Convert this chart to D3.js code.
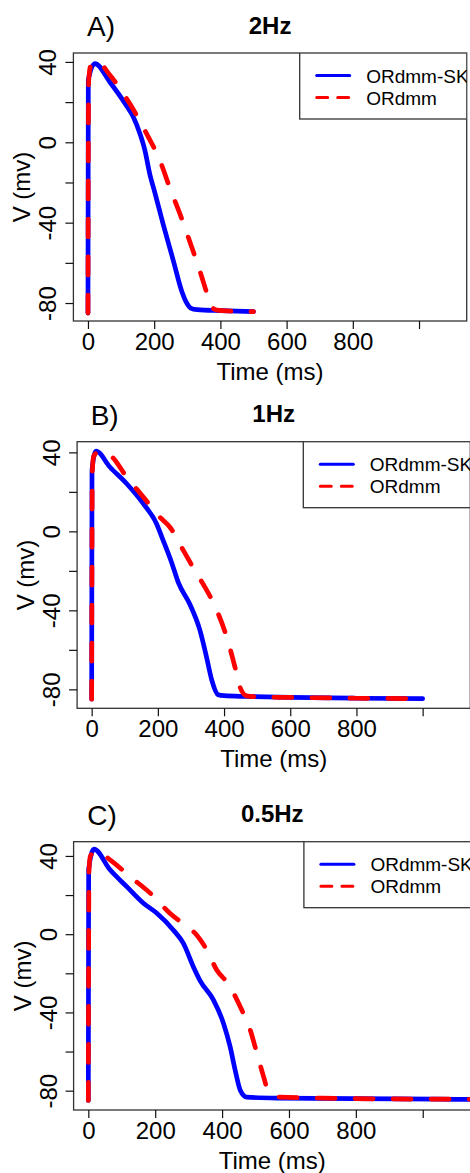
<!DOCTYPE html>
<html>
<head>
<meta charset="utf-8">
<script src="https://cdn.jsdelivr.net/npm/d3@7"></script>
<style>
  body { margin: 0; background: #fff; }
  svg { display: block; font-family: "Liberation Sans", Arial, sans-serif; }
</style>
</head>
<body>
<svg width="470" height="1173"></svg>
<script>
const panelLetters = ['A)', 'B)', 'C)'];
const panelTitles = ['2Hz', '1Hz', '0.5Hz'];
const seriesNames = ['ORdmm-SK', 'ORdmm'];
const xTicks = [0, 200, 400, 600, 800, 1000];
const xTickLabels = ['0', '200', '400', '600', '800', ''];
const yTicks = [-80, -60, -40, -20, 0, 20, 40];
const yTickLabels = ['-80', '', '-40', '', '0', '', '40'];
const xLimit = [0, 1100];
const yLimits = [[-84.0, 39.5], [-84.6, 40.4], [-84.8, 42.2]];

// A) 2Hz
const timeSkA = [0, 1, 21, 66, 112, 137, 157, 172, 187, 202, 227, 258, 283, 300, 310, 330, 400, 500];
const voltSkA = [-85, 31, 39.2, 30, 19.3, 12.6, 4.3, -4, -16, -25, -40.7, -59, -74, -80.5, -82.5, -83.3, -83.8, -84.3];
const timeOrdA = [0, 2, 8, 26, 66, 127, 177, 217, 248, 278, 313, 338, 363, 374, 390, 430, 500];
const voltOrdA = [-85, 30, 38, 40.5, 33.5, 19, 4.3, -9, -23, -35.7, -52, -64, -77, -82, -83.5, -84, -84.3];

// B) 1Hz
const timeSkB = [0, 1, 13, 55, 106, 156, 196, 216, 242, 262, 297, 327, 347, 363, 382, 400, 468, 600, 800, 1000];
const voltSkB = [-85, 31, 40.7, 32.6, 24.1, 14, 3.9, -4.6, -16, -26, -37, -50, -63.6, -75.4, -82.7, -83.2, -83.6, -84.1, -84.5, -84.7];
const timeOrdB = [0, 2, 6, 20, 55, 106, 156, 206, 236, 277, 317, 342, 378, 408, 433, 448, 468, 500, 600, 800, 1000];
const voltOrdB = [-85, 30, 38, 40.2, 38.5, 27.5, 17.4, 7.2, 2.2, -9.6, -21.4, -28.2, -40, -53.5, -68.7, -78.8, -83.3, -83.8, -84.1, -84.5, -84.7];

// C) 0.5Hz
const timeSkC = [0, 1, 17, 65, 115, 165, 205, 254, 284, 314, 335, 374, 404, 424, 439, 454, 474, 564, 800, 1100, 2000];
const voltSkC = [-85, 33, 43.5, 32.9, 24.3, 15.8, 10.7, 2.2, -4.6, -16.6, -24, -33.6, -45.5, -57.5, -69.4, -79.6, -83.3, -83.8, -84.1, -84.4, -84.6];
const timeOrdC = [0, 2, 6, 25, 65, 125, 185, 244, 294, 324, 354, 384, 419, 454, 484, 504, 524, 539, 574, 700, 1000, 2000];
const voltOrdC = [-85, 32, 40, 42.5, 38, 29.4, 21, 10.7, 3.9, -0.4, -8, -18.3, -25.5, -37, -48.9, -60.8, -72.8, -80.5, -83.3, -83.8, -84.3, -84.6];

const seriesTimes = [[timeSkA, timeOrdA], [timeSkB, timeOrdB], [timeSkC, timeOrdC]];
const seriesVolts = [[voltSkA, voltOrdA], [voltSkB, voltOrdB], [voltSkC, voltOrdC]];

const colors = ['#0000ff', '#ff0000'];
const dashes = [null, '18 20'];
const legendDashes = [null, '11 10'];

// plot regions (R default par style layout)
const frames = [
  { left: 73.4, right: 466.7, top: 53, bottom: 321 },
  { left: 77.1, right: 470.3, top: 441.7, bottom: 708.3 },
  { left: 73.6, right: 470.9, top: 841.7, bottom: 1110 },
];

const svg = d3.select('svg');

const pad = (lim) => {
  const r = lim[1] - lim[0];
  return [lim[0] - 0.04 * r, lim[1] + 0.04 * r];
};

frames.forEach((f, i) => {
  const x = d3.scaleLinear().domain(pad(xLimit)).range([f.left, f.right]);
  const y = d3.scaleLinear().domain(pad(yLimits[i])).range([f.bottom, f.top]);
  const g = svg.append('g');
  const clipId = `clip${i}`;

  g.append('clipPath').attr('id', clipId)
    .append('rect')
    .attr('x', f.left).attr('y', f.top)
    .attr('width', f.right - f.left).attr('height', f.bottom - f.top);

  // lines
  const line = d3.line().x(d => x(d[0])).y(d => y(d[1])).curve(d3.curveMonotoneX);
  const lines = g.append('g').attr('clip-path', `url(#${clipId})`);
  seriesNames.forEach((name, s) => {
    const pts = seriesTimes[i][s].map((t, k) => [t, seriesVolts[i][s][k]]);
    lines.append('path')
      .attr('d', line(pts))
      .attr('fill', 'none')
      .attr('stroke', colors[s])
      .attr('stroke-width', 4.7)
      .attr('stroke-linejoin', 'round')
      .attr('stroke-linecap', 'round')
      .attr('stroke-dasharray', dashes[s]);
  });

  // box
  g.append('rect')
    .attr('x', f.left).attr('y', f.top)
    .attr('width', f.right - f.left).attr('height', f.bottom - f.top)
    .attr('fill', 'none').attr('stroke', '#333').attr('stroke-width', 1.3);

  // x axis
  const xAxis = d3.axisBottom(x).tickValues(xTicks).tickSize(8).tickPadding(4)
    .tickFormat((d, k) => xTickLabels[k]);
  const gx = g.append('g').attr('transform', `translate(0,${f.bottom})`).call(xAxis);
  gx.select('.domain').remove();
  gx.selectAll('line').attr('stroke', '#111').attr('stroke-width', 1.2);
  gx.selectAll('text').attr('font-size', 24).attr('fill', '#000')
    .attr('font-family', '"Liberation Sans", Arial, sans-serif')
    .attr('dy', null).attr('y', 29);

  // y axis
  const yAxis = d3.axisLeft(y).tickValues(yTicks).tickSize(8)
    .tickFormat((d, k) => yTickLabels[k]);
  const gy = g.append('g').attr('transform', `translate(${f.left},0)`).call(yAxis);
  gy.select('.domain').remove();
  gy.selectAll('line').attr('stroke', '#111').attr('stroke-width', 1.2);
  gy.selectAll('text')
    .attr('font-size', 24).attr('fill', '#000')
    .attr('font-family', '"Liberation Sans", Arial, sans-serif')
    .attr('x', null).attr('dy', null)
    .attr('text-anchor', 'middle')
    .attr('transform', 'translate(-17,0) rotate(-90)');

  // axis titles
  g.append('text')
    .attr('x', (f.left + f.right) / 2).attr('y', f.bottom + 59)
    .attr('text-anchor', 'middle').attr('font-size', 24)
    .text('Time (ms)');
  g.append('text')
    .attr('transform', `translate(${f.left - 43},${(f.top + f.bottom) / 2}) rotate(-90)`)
    .attr('text-anchor', 'middle').attr('font-size', 24)
    .text('V (mv)');

  // titles
  g.append('text')
    .attr('x', x(0) - 1).attr('y', f.top - 17)
    .attr('font-size', 28)
    .text(panelLetters[i]);
  g.append('text')
    .attr('x', (f.left + f.right) / 2).attr('y', f.top - 19.5)
    .attr('text-anchor', 'middle').attr('font-size', 24).attr('font-weight', 'bold')
    .text(panelTitles[i]);

  // legend
  const lg = g.append('g').attr('clip-path', `url(#${clipId})`);
  lg.append('rect')
    .attr('x', f.right - 167).attr('y', f.top)
    .attr('width', 167).attr('height', 66)
    .attr('fill', '#fff').attr('stroke', '#333').attr('stroke-width', 1.3);
  seriesNames.forEach((name, s) => {
    const ly = f.top + 22.5 + s * 22;
    lg.append('line')
      .attr('x1', f.right - 150).attr('x2', f.right - 117)
      .attr('y1', ly).attr('y2', ly)
      .attr('stroke', colors[s]).attr('stroke-width', 3)
      .attr('stroke-linecap', 'round')
      .attr('stroke-dasharray', legendDashes[s]);
    lg.append('text')
      .attr('x', f.right - 100.5).attr('y', ly + 7)
      .attr('font-size', 19)
      .text(name);
  });
});
</script>
</body>
</html>
